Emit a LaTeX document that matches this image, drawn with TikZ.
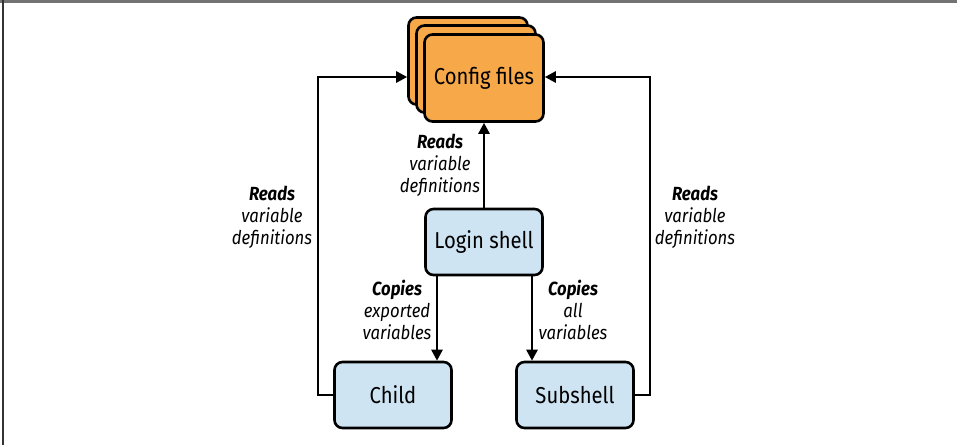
\documentclass[tikz,border=0pt]{standalone}
\usepackage{fontspec}
\setmainfont{Fira Sans}[FakeStretch=0.88]
\usetikzlibrary{arrows.meta}
\definecolor{cfgorange}{RGB}{247,169,74}
\definecolor{shellblue}{RGB}{207,228,242}
\begin{document}
\begin{tikzpicture}[x=1pt, y=-1pt, line width=2.6pt,
    card/.style={draw, fill=cfgorange, rounded corners=8pt, inner sep=0pt,
      minimum width=119pt, minimum height=87pt, font=\fontsize{23}{27}\selectfont},
    shellbox/.style={draw, fill=shellblue, rounded corners=8pt, inner sep=0pt,
      minimum width=117pt, minimum height=66pt, font=\fontsize{23}{27}\selectfont},
    note/.style={align=center, inner sep=0pt, font=\fontsize{19}{22}\selectfont\itshape},
    link/.style={-{Triangle[length=11pt, width=11pt]}}]
      \useasboundingbox (0,0) rectangle (957,445);
      % frame edges
      \draw[black!55, line width=2.5pt] (0,1.5) -- (957,1.5);
      \draw[black!80, line width=2pt] (3,0) -- (3,445);
      % config file stack
      \node[card] (cfg3) at (468,61) {};
      \node[card] (cfg2) at (476,69) {};
      \node[card] (cfg) at (484,78) {Config files};
      % shells
      \node[shellbox] (login) at (484,242) {Login shell};
      \node[shellbox] (child) at (393,395) {Child};
      \node[shellbox] (subshell) at (575,395) {Subshell};
      \coordinate (lbend) at (318,77);
      \coordinate (rbend) at (650,77);
      % labels
      \node[note] (readsmid) at (440,165) {\textbf{Reads}\\variable\\definitions};
      \node[note] (readsleft) at (272,217) {\textbf{Reads}\\variable\\definitions};
      \node[note] (readsright) at (695,217) {\textbf{Reads}\\variable\\definitions};
      \node[note] (copyexp) at (397,310) {\textbf{Copies}\\exported\\variables};
      \node[note] (copyall) at (573,310) {\textbf{Copies}\\all\\variables};
      \begin{scope}[link]
        \draw (login) -- (cfg);
        \draw ([xshift=-47pt]login.south) -- ([xshift=-47pt]login.south |- child.north);
        \draw ([xshift=48pt]login.south) -- ([xshift=48pt]login.south |- subshell.north);
        \draw (child.west) -| (lbend) -- (lbend -| cfg3.west);
        \draw (subshell.east) -| (rbend) -- (rbend -| cfg.east);
      \end{scope}
    \end{tikzpicture}
\end{document}
